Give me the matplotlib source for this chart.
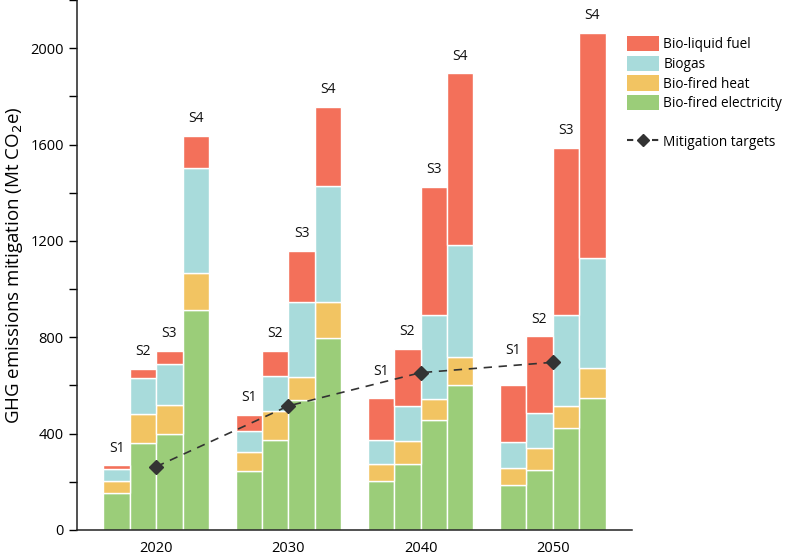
import matplotlib
matplotlib.use("Agg")
import matplotlib.pyplot as plt
import numpy as np
from matplotlib.patches import Patch
from matplotlib.lines import Line2D
from matplotlib.ticker import MultipleLocator

plt.rcParams['font.family'] = ['Open Sans', 'DejaVu Sans']

years = ["2020", "2030", "2040", "2050"]
scenarios = ["S1", "S2", "S3", "S4"]

# segment values; rows: year, cols: scenario
electricity = np.array([[155, 360, 398, 912],
                        [245, 372, 540, 797],
                        [205, 273, 455, 600],
                        [187, 248, 422, 549]])
heat = np.array([[50, 121, 121, 156],
                 [77, 121, 96, 150],
                 [68, 95, 89, 119],
                 [72, 92, 93, 122]])
biogas = np.array([[48, 149, 170, 435],
                   [88, 145, 311, 482],
                   [99, 147, 350, 462],
                   [106, 147, 376, 459]])
liquid = np.array([[15, 38, 55, 132],
                   [67, 105, 212, 328],
                   [176, 236, 531, 714],
                   [237, 317, 696, 933]])
targets = [263, 515, 653, 696]

c_liq = "#F3705A"
c_gas = "#A8DBDB"
c_heat = "#F2C462"
c_ele = "#9BCD79"

# extra lift (in data units) for labels moved clear of the target line
label_lift = {(2, 0): 40, (3, 0): 70}

fig = plt.figure(figsize=(7.87, 5.57), dpi=100)
ax = fig.add_axes([0.0978, 0.0485, 0.803 - 0.0978, 1 - 0.0485])

w = 0.2
offsets = np.array([-1.5, -0.5, 0.5, 1.5]) * w
xg = np.arange(len(years))
for i in range(len(years)):
    xs = xg[i] + offsets
    b0 = np.zeros(4)
    for vals, col in [(electricity[i], c_ele), (heat[i], c_heat),
                      (biogas[i], c_gas), (liquid[i], c_liq)]:
        ax.bar(xs, vals, w, bottom=b0, color=col, edgecolor="white", linewidth=1.0, zorder=2)
        b0 = b0 + vals
    for j, s in enumerate(scenarios):
        ax.text(xs[j], b0[j] + 40 + label_lift.get((i, j), 0), s,
                ha="center", va="bottom", fontsize=10, color="#111111")

ax.plot(xg, targets, linestyle=(0, (5, 4)), color="#333333", linewidth=1.2,
        marker="D", markersize=7, markerfacecolor="#333333", markeredgecolor="#333333", zorder=4)

ax.set_xlim(-0.6, 3.6)
ax.set_ylim(0, 2200)
ax.set_xticks(xg)
ax.set_xticklabels(years, fontsize=10.5)
ax.tick_params(axis="x", length=0, pad=8)
ax.yaxis.set_major_locator(MultipleLocator(400))
ax.yaxis.set_minor_locator(MultipleLocator(200))
ax.tick_params(axis="y", which="major", length=6, width=1, labelsize=10.5, direction="out")
ax.tick_params(axis="y", which="minor", length=6, width=1, direction="out")
for sp in ["top", "right"]:
    ax.spines[sp].set_visible(False)
ax.spines["left"].set_linewidth(1.1)
ax.spines["bottom"].set_linewidth(1.1)
ax.spines["left"].set_color("#222222")
ax.spines["bottom"].set_color("#222222")
ax.set_ylabel("GHG emissions mitigation (Mt CO$_2$e)", fontsize=13.5, labelpad=4)

handles = [Patch(facecolor=c_liq, label="Bio-liquid fuel"),
           Patch(facecolor=c_gas, label="Biogas"),
           Patch(facecolor=c_heat, label="Bio-fired heat"),
           Patch(facecolor=c_ele, label="Bio-fired electricity"),
           Patch(facecolor="none", edgecolor="none", label=" "),
           Line2D([0], [0], linestyle=(0, (3, 3)), color="#333333", marker="D",
                  markersize=6, label="Mitigation targets")]
fig.legend(handles=handles, loc="upper left", bbox_to_anchor=(0.797, 0.935),
           frameon=False, fontsize=9.8, handlelength=2.3, handleheight=1.35,
           labelspacing=0.25, handletextpad=0.35, borderaxespad=0, borderpad=0)

fig.savefig("out.png", dpi=100)
